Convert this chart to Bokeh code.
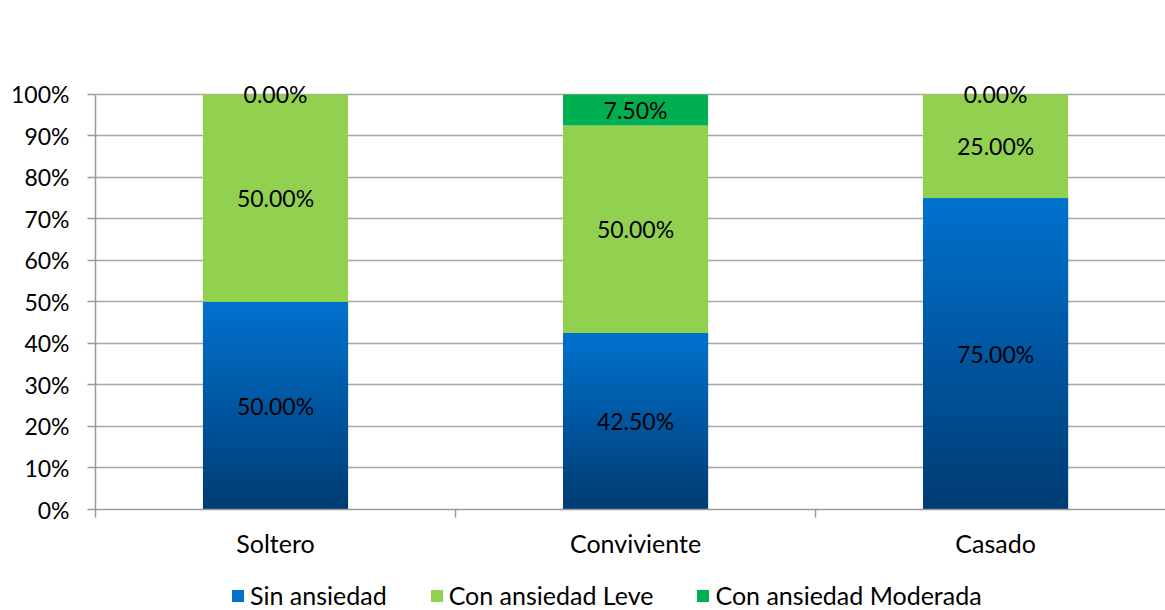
import numpy as np
from bokeh.plotting import figure
from bokeh.layouts import column
from bokeh.models import (Range1d, FixedTicker, NumeralTickFormatter, ColumnDataSource,
                          Legend, LegendItem, LabelSet)
from bokeh.core.properties import value
from bokeh.embed import file_html
from bokeh.resources import INLINE

categories = ["Soltero", "Conviviente", "Casado"]
series_names = ["Sin ansiedad", "Con ansiedad Leve", "Con ansiedad Moderada"]
sin_ansiedad = [0.50, 0.425, 0.75]
ansiedad_leve = [0.50, 0.50, 0.25]
ansiedad_moderada = [0.0, 0.075, 0.0]
y_ticks = [0.0, 0.1, 0.2, 0.3, 0.4, 0.5, 0.6, 0.7, 0.8, 0.9, 1.0]

colors = ["#0070C8", "#92D050", "#00B050"]
FONT = "Lato"
BAR_W = 0.403

xs = [i + 0.5 for i in range(len(categories))]
src = ColumnDataSource(dict(x=xs, s0=sin_ansiedad, s1=ansiedad_leve, s2=ansiedad_moderada))

p = figure(width=1165, height=560, output_backend="svg", toolbar_location=None,
           x_range=Range1d(0, 2.972), y_range=Range1d(0, 1.06),
           min_border_left=95, min_border_right=0, min_border_top=69, min_border_bottom=50)
p.outline_line_color = None
p.background_fill_color = "white"

renderers = p.vbar_stack(["s0", "s1", "s2"], x="x", width=BAR_W, source=src,
                         color=colors, line_color=None)

# gradient overlay for the blue series (dark at bottom -> bright at top)
n = 64
t = np.linspace(0, 1, n)
bottom = np.array([0, 60, 116])
top = np.array([0, 114, 206])
grad = np.zeros((n, 1), dtype=np.uint32)
view = grad.view(dtype=np.uint8).reshape((n, 1, 4))
for k in range(n):
    c = bottom + (top - bottom) * t[k]
    view[k, 0, 0] = int(c[0]); view[k, 0, 1] = int(c[1]); view[k, 0, 2] = int(c[2]); view[k, 0, 3] = 255
p.image_rgba(image=[grad] * len(xs), x=[x - BAR_W / 2 for x in xs], y=[0] * len(xs),
             dw=[BAR_W] * len(xs), dh=sin_ansiedad)

# data labels
lx, ly, lt = [], [], []
for i, x in enumerate(xs):
    base = 0.0
    for ser in (sin_ansiedad, ansiedad_leve, ansiedad_moderada):
        v = ser[i]
        lx.append(x); ly.append(base + v / 2); lt.append(f"{v * 100:.2f}%")
        base += v
lab_src = ColumnDataSource(dict(x=lx, y=ly, text=lt))
p.add_layout(LabelSet(x="x", y="y", text="text", source=lab_src,
                      text_font=value(FONT), text_font_size=value("23px"), text_align="center",
                      text_baseline="middle", text_color="#000000"))

# axes
p.yaxis.ticker = FixedTicker(ticks=y_ticks)
p.yaxis.bounds = (0, 1)
p.yaxis.formatter = NumeralTickFormatter(format="0%")
p.yaxis.major_label_text_font = FONT
p.yaxis.major_label_text_font_size = "23px"
p.yaxis.major_label_text_color = "#000000"
p.yaxis.axis_line_color = "#9A9A9A"
p.yaxis.axis_line_width = 1.5
p.yaxis.major_tick_line_color = "#9A9A9A"
p.yaxis.major_tick_line_width = 1.5
p.yaxis.major_tick_out = 8
p.yaxis.major_tick_in = 0
p.yaxis.minor_tick_line_color = None
p.yaxis.major_label_standoff = 18

p.xaxis.ticker = FixedTicker(ticks=xs, minor_ticks=[0, 1, 2, 3])
p.xaxis.major_label_overrides = {x: c for x, c in zip(xs, categories)}
p.xaxis.major_label_text_font = FONT
p.xaxis.major_label_text_font_size = "25px"
p.xaxis.major_label_text_color = "#000000"
p.xaxis.axis_line_color = "#9A9A9A"
p.xaxis.axis_line_width = 1.5
p.xaxis.major_tick_line_color = None
p.xaxis.major_tick_out = 0
p.xaxis.major_tick_in = 0
p.xaxis.minor_tick_line_color = "#9A9A9A"
p.xaxis.minor_tick_line_width = 1.5
p.xaxis.minor_tick_out = 8
p.xaxis.minor_tick_in = 0
p.xaxis.major_label_standoff = 10

p.xgrid.grid_line_color = None
p.ygrid.ticker = FixedTicker(ticks=y_ticks)
p.ygrid.grid_line_color = "#A6A6A6"
p.ygrid.grid_line_width = 1.5

# legend strip below the chart (zero-height proxy swatches, invisible in the strip)
pl = figure(width=1165, height=50, output_backend="svg", toolbar_location=None,
            x_range=Range1d(0, 1), y_range=Range1d(0, 1),
            x_axis_type=None, y_axis_type=None,
            min_border_left=95, min_border_right=0, min_border_top=0, min_border_bottom=0)
pl.grid.visible = False
pl.outline_line_color = None
legend_renderers = [pl.vbar(x=[0.5], top=[0.0], width=0.1, color=c, line_color=None) for c in colors]
legend = Legend(items=[LegendItem(label=nm, renderers=[r]) for nm, r in zip(series_names, legend_renderers)],
                orientation="horizontal", location=(135, 0),
                label_text_font=FONT, label_text_font_size="25px", label_text_color="#000000",
                glyph_width=15, glyph_height=15, label_standoff=5, spacing=42,
                padding=0, margin=0, border_line_color=None, background_fill_alpha=0)
pl.add_layout(legend, "center")

open("out.html", "w").write(file_html(column(p, pl), INLINE))
